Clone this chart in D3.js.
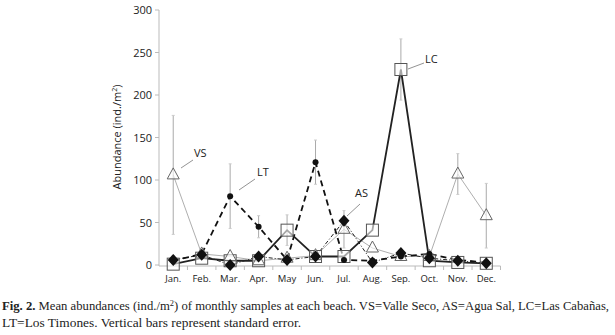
<!DOCTYPE html>
<html><head><meta charset="utf-8">
<script src="https://cdn.jsdelivr.net/npm/d3@7"></script>
<style>body{margin:0;background:#fff;} svg{display:block;}</style>
</head><body>
<svg id="c" width="615" height="335"></svg>
<script>
const months = ["Jan.","Feb.","Mar.","Apr.","May","Jun.","Jul.","Aug.","Sep.","Oct.","Nov.","Dec."];
const yTicks = [0,50,100,150,200,250,300];
const VS = [106,13,10,5,8,11,42,20,10,10,107,58];
const VS_se = [70,0,0,0,0,0,22,0,0,0,24,38];
const LT = [5,13,81,45,6,121,6,5,10,13,6,3];
const LT_se = [0,0,38,13,0,26,0,0,0,0,0,0];
const LC = [1,8,5,5,41,10,10,41,230,5,3,2];
const LC_se = [0,0,0,0,18,0,0,0,36,0,0,0];
const AS = [6,12,0,10,6,10,52,3,14,8,5,2];
const AS_se = [0,0,0,0,0,0,0,0,0,0,0,0];

const svg = d3.select("#c");
const x = d3.scaleBand().domain(months).range([159, 500.5]);
const y = d3.scaleLinear().domain([0,300]).range([265, 10]);
const cx = m => x(m) + x.bandwidth()/2;
const axisCol = "#bbb";

// y axis
svg.append("line").attr("x1",159).attr("x2",159).attr("y1",y(300)).attr("y2",y(0)+1).attr("stroke",axisCol);
yTicks.forEach(t=>{
  svg.append("line").attr("x1",155).attr("x2",159).attr("y1",y(t)).attr("y2",y(t)).attr("stroke",axisCol);
  svg.append("text").attr("x",152).attr("y",y(t)+4).attr("text-anchor","end")
    .attr("font-family","Open Sans, sans-serif").attr("font-size",11).attr("fill","#222").text(t);
});
svg.append("text").attr("transform","translate(121,137) rotate(-90)").attr("text-anchor","middle")
  .attr("font-family","Open Sans, sans-serif").attr("font-size",11).attr("fill","#222")
  .html('Abundance (ind./m<tspan dy="-4" font-size="7">2</tspan><tspan dy="4">)</tspan>');

// x axis
svg.append("line").attr("x1",159).attr("x2",500.5).attr("y1",266).attr("y2",266).attr("stroke",axisCol);
months.forEach((m,i)=>{
  svg.append("line").attr("x1",x(m)+x.bandwidth()).attr("x2",x(m)+x.bandwidth()).attr("y1",266).attr("y2",270).attr("stroke",axisCol);
  svg.append("text").attr("x",cx(m)).attr("y",282).attr("text-anchor","middle")
    .attr("font-family","Open Sans, sans-serif").attr("font-size",9.5).attr("fill","#222").text(m);
});

// error bars
function errs(vals, se){
  vals.forEach((v,i)=>{
    if(!se[i]) return;
    const X = cx(months[i]);
    const lo = Math.max(0, v - se[i]), hi = v + se[i];
    svg.append("line").attr("x1",X).attr("x2",X).attr("y1",y(lo)).attr("y2",y(hi)).attr("stroke","#aaa").attr("stroke-width",1);
    [lo,hi].forEach(e=> svg.append("line").attr("x1",X-1.5).attr("x2",X+1.5).attr("y1",y(e)).attr("y2",y(e)).attr("stroke","#ccc"));
  });
}
errs(VS,VS_se); errs(LT,LT_se); errs(LC,LC_se); errs(AS,AS_se);

const line = d3.line().x((d,i)=>cx(months[i])).y(d=>y(d));
// lines
svg.append("path").attr("d",line(VS)).attr("fill","none").attr("stroke","#999").attr("stroke-width",0.8);
svg.append("path").attr("d",line(AS)).attr("fill","none").attr("stroke","#222").attr("stroke-width",1).attr("stroke-dasharray","4,2,1,2");
svg.append("path").attr("d",line(LT)).attr("fill","none").attr("stroke","#111").attr("stroke-width",1.8).attr("stroke-dasharray","6,4");
svg.append("path").attr("d",line(LC)).attr("fill","none").attr("stroke","#222").attr("stroke-width",1.8);

// markers
LC.forEach((v,i)=>{
  svg.append("rect").attr("x",cx(months[i])-6).attr("y",y(v)-6).attr("width",12).attr("height",12)
    .attr("fill","#fff").attr("fill-opacity",0.6).attr("stroke","#555").attr("stroke-width",1);
});
VS.forEach((v,i)=>{
  const X=cx(months[i]), Y=y(v);
  svg.append("path").attr("d",`M${X},${Y-7}L${X+6},${Y+4}L${X-6},${Y+4}Z`).attr("fill","#fff").attr("fill-opacity",0.6)
    .attr("stroke","#666").attr("stroke-width",1);
});
AS.forEach((v,i)=>{
  const X=cx(months[i]), Y=y(v);
  svg.append("path").attr("d",`M${X},${Y-6}L${X+5.5},${Y}L${X},${Y+6}L${X-5.5},${Y}Z`).attr("fill","#111");
});
LT.forEach((v,i)=>{
  svg.append("circle").attr("cx",cx(months[i])).attr("cy",y(v)).attr("r",3).attr("fill","#111");
});

// labels
const labs = [
  {t:"VS", tx:194, ty:157, x1:181, y1:168, x2:193, y2:160},
  {t:"LT", tx:257, ty:176, x1:239, y1:190, x2:255, y2:179},
  {t:"AS", tx:355, ty:197, x1:347, y1:216, x2:360, y2:204},
  {t:"LC", tx:425, ty:63, x1:408, y1:69, x2:424, y2:63},
];
labs.forEach(l=>{
  svg.append("line").attr("x1",l.x1).attr("y1",l.y1).attr("x2",l.x2).attr("y2",l.y2).attr("stroke","#777").attr("stroke-width",0.8);
  svg.append("text").attr("x",l.tx).attr("y",l.ty).attr("font-family","Open Sans, sans-serif").attr("font-size",11).attr("fill","#222").text(l.t);
});

// caption
const capFont = "Liberation Serif, Times New Roman, serif";
const cap = svg.append("text").attr("font-family",capFont).attr("font-size",12.8).attr("fill","#222")
  .attr("textLength",607).attr("lengthAdjust","spacingAndGlyphs");
cap.append("tspan").attr("x",2).attr("y",310).attr("font-weight","bold").text("Fig. 2.");
cap.append("tspan").text(" Mean abundances (ind./m");
cap.append("tspan").attr("dy",-4).attr("font-size",8.5).text("2");
cap.append("tspan").attr("dy",4).text(") of monthly samples at each beach. VS=Valle Seco, AS=Agua Sal, LC=Las Cabañas,");
svg.append("text").attr("x",2).attr("y",327).attr("font-family",capFont).attr("font-size",12.8).attr("fill","#222")
  .attr("textLength",299).attr("lengthAdjust","spacingAndGlyphs")
  .text("LT=Los Timones. Vertical bars represent standard error.");
</script>
</body></html>
